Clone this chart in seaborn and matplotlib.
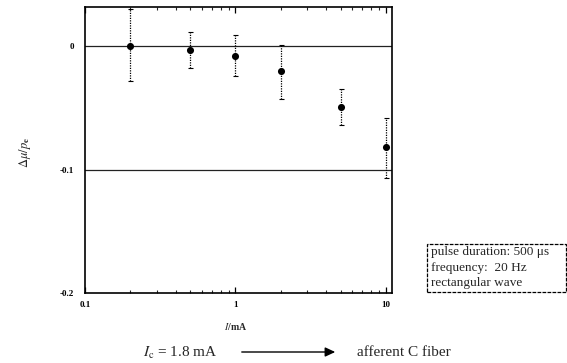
import matplotlib
matplotlib.use("Agg")
import matplotlib.pyplot as plt
import seaborn as sns
import numpy as np
import pandas as pd
from matplotlib.patches import Rectangle, FancyArrowPatch
from matplotlib.ticker import FixedLocator, FixedFormatter, LogLocator, NullFormatter

# ---- data ----
currents = [0.2, 0.5, 1, 2, 5, 10]
delta = [0.0, -0.003, -0.008, -0.020, -0.049, -0.082]
err_up = [0.030, 0.014, 0.017, 0.021, 0.014, 0.024]
err_lo = [0.028, 0.0145, 0.016, 0.023, 0.015, 0.025]
xtick_vals = [0.1, 1, 10]
xtick_labels = ["0.1", "1", "10"]
ytick_vals = [0, -0.1, -0.2]
ytick_labels = ["0", "-0.1", "-0.2"]
box_lines = ["pulse duration: 500 \u03bcs", "frequency:  20 Hz", "rectangular wave"]

sns.set_theme(style="white")
plt.rcParams["font.family"] = ["Liberation Serif", "DejaVu Serif"]
plt.rcParams["mathtext.fontset"] = "stix"
plt.rcParams["axes.unicode_minus"] = False

W, H = 567, 363
fig = plt.figure(figsize=(W / 100, H / 100), dpi=100)
L, R, T, B = 85, 392, 7, 293
ax = fig.add_axes([L / W, 1 - B / H, (R - L) / W, (B - T) / H])

df = pd.DataFrame({"I": currents, "d": delta})
ax.set_xscale("log")
ax.errorbar(currents, delta, yerr=[err_lo, err_up], fmt="none", ecolor="black",
            elinewidth=0.9, capsize=1.8, capthick=0.8, linestyle=":")
eb = ax.containers[-1]
for lc in eb[2]:
    lc.set_linestyle((0, (1, 1)))
sns.scatterplot(data=df, x="I", y="d", ax=ax, color="black", s=26,
                edgecolor="black", linewidth=0, zorder=5, legend=False)

for yv in [0, -0.1]:
    ax.axhline(yv, color="#222222", lw=0.9, zorder=1)

ax.set_xlim(0.1, 11)
ax.set_ylim(-0.2, 0.0316)
ax.xaxis.set_major_locator(FixedLocator(xtick_vals))
ax.xaxis.set_major_formatter(FixedFormatter(xtick_labels))
ax.xaxis.set_minor_locator(LogLocator(base=10, subs=np.arange(2, 10)))
ax.xaxis.set_minor_formatter(NullFormatter())
ax.yaxis.set_major_locator(FixedLocator(ytick_vals))
ax.yaxis.set_major_formatter(FixedFormatter(ytick_labels))
ax.tick_params(axis="x", which="major", direction="in", length=4, width=0.9,
               top=True, bottom=True, labelsize=6.5, pad=6, colors="black")
ax.tick_params(axis="x", which="minor", direction="in", length=2.5, width=0.8,
               top=True, bottom=True)
ax.tick_params(axis="y", which="major", direction="in", length=0, labelsize=6.5,
               pad=8, colors="black")
for lab in ax.get_xticklabels() + ax.get_yticklabels():
    lab.set_fontweight("bold")
for s in ax.spines.values():
    s.set_linewidth(1.2)
    s.set_color("black")
ax.set_xlabel("")
ax.set_ylabel("")

def fx(px):
    return px / W

def fy(py):
    return 1 - py / H

fig.text(fx(25), fy(152), r"$\Delta\mu/p_{\mathbf{e}}$", rotation=90,
         ha="center", va="center", fontsize=9, fontweight="bold")
fig.text(fx(236), fy(326), r"$I$/mA", ha="center", va="center", fontsize=7,
         fontweight="bold")

# bottom annotation
fig.text(fx(218), fy(353), r"$I_{\rm c}$ = 1.8 mA", ha="right", va="center", fontsize=11)
arr = FancyArrowPatch((fx(239), fy(352)), (fx(338), fy(352)), transform=fig.transFigure,
                      arrowstyle="-|>,head_length=6,head_width=2.8", color="black",
                      lw=1.0, mutation_scale=1)
fig.patches.append(arr)
fig.text(fx(357), fy(353), "afferent C fiber", ha="left", va="center", fontsize=11)

# info box
rect = Rectangle((fx(427), fy(292)), fx(566) - fx(427), fy(244) - fy(292),
                 transform=fig.transFigure, fill=False, edgecolor="black", lw=0.9,
                 linestyle=(0, (3, 1)))
fig.patches.append(rect)
for i, t in enumerate(box_lines):
    fig.text(fx(431), fy(252 + i * 15.5), t, ha="left", va="center", fontsize=9.5)

fig.savefig("out.png", dpi=100, facecolor="white")
